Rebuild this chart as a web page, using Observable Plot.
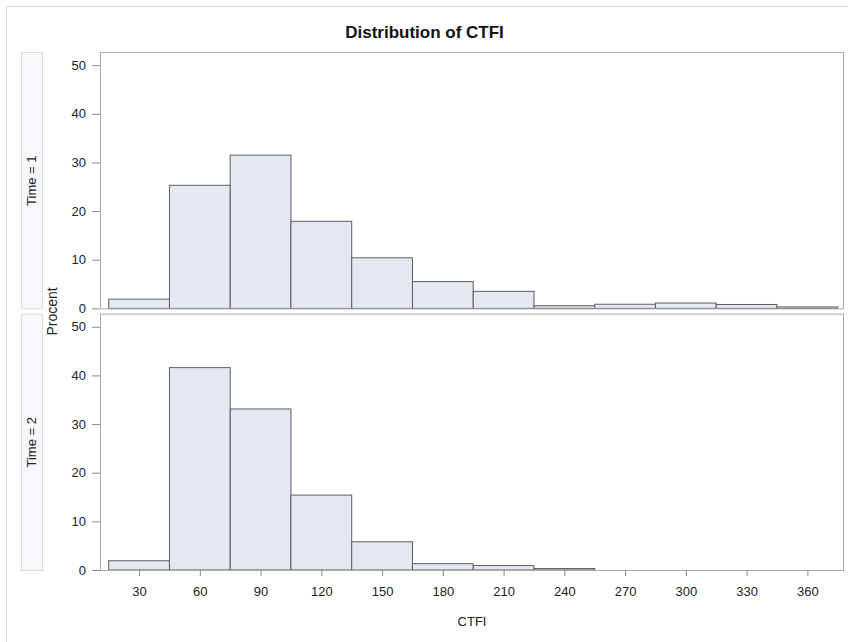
<!DOCTYPE html>
<html><head><meta charset="utf-8">
<script src="https://cdn.jsdelivr.net/npm/d3@7"></script>
<script src="https://cdn.jsdelivr.net/npm/@observablehq/plot@0.6"></script>
<style>
body{margin:0;background:#fff;font-family:"Liberation Sans",Arial,sans-serif;}
#wrap{position:relative;width:848px;height:642px;overflow:hidden;}
#chart{position:absolute;left:0;top:0;}
#outer{position:absolute;left:6px;top:6px;width:900px;height:700px;border:1px solid #d9d9d9;pointer-events:none;}
</style></head><body>
<div id="wrap"><div id="chart"></div><div id="outer"></div></div>
<script>
// bin midpoints (CTFI), bin width 30
const binMids = [30, 60, 90, 120, 150, 180, 210, 240, 270, 300, 330, 360];
const binWidth = 30;
// percent per bin
const time1 = [1.9, 25.3, 31.5, 17.9, 10.4, 5.5, 3.5, 0.55, 0.85, 1.1, 0.8, 0.3];
const time2 = [1.9, 41.6, 33.1, 15.4, 5.8, 1.3, 0.9, 0.3, 0, 0, 0, 0];
const timeLevels = [1, 2];
const xTicks = [30, 60, 90, 120, 150, 180, 210, 240, 270, 300, 330, 360];
const yTicks = [0, 10, 20, 30, 40, 50];
const titleText = "Distribution of CTFI";
const xLabel = "CTFI";
const yLabel = "Procent";

const series = [time1, time2];
const rows = [];
timeLevels.forEach((t, i) => binMids.forEach((m, j) => rows.push({time: t, mid: m, pct: series[i][j]})));

const textColor = "#222";
const font = "Liberation Sans, Arial, sans-serif";

const chart = Plot.plot({
  width: 848,
  height: 642,
  marginTop: 52,
  marginBottom: 72,
  marginLeft: 100,
  marginRight: 5,
  style: {fontFamily: font, fontSize: "13px", color: textColor, background: "transparent", overflow: "visible"},
  x: {domain: [10.7, 377.6]},
  y: {domain: [0, 52.7]},
  fy: {domain: timeLevels, paddingInner: 0.02, paddingOuter: 0, axis: null, round: false},
  marks: [
    // strip boxes
    Plot.frame({fill: "#f7f8fc", stroke: "#dcdcdc", insetLeft: -79, insetRight: 801}),
    Plot.text(timeLevels, {fy: d => d, text: d => `Time = ${d}`, frameAnchor: "left", dx: -68.5, rotate: -90, textAnchor: "middle", fontSize: 13, fill: textColor}),
    Plot.rectY(rows.filter(d => d.pct > 0), {
      fy: "time",
      x1: d => d.mid - binWidth / 2,
      x2: d => d.mid + binWidth / 2,
      y: "pct",
      fill: "#e4e8f1",
      stroke: "#5e5e5e",
      strokeWidth: 1
    }),
    Plot.frame({stroke: "#ababab"}),
    Plot.axisY(yTicks, {tickSize: 8, tickPadding: 6.5, label: null, stroke: "#8c8c8c", fill: textColor, fontSize: 13}),
    Plot.axisX(xTicks, {tickSize: 6, tickPadding: 10, label: null, stroke: "#8c8c8c", fill: textColor, fontSize: 13}),
    Plot.text([xLabel], {fy: () => 2, frameAnchor: "bottom", dy: 55, fontSize: 13, fill: textColor}),
    Plot.text([yLabel], {fy: () => 1, frameAnchor: "bottom-left", dx: -44, dy: 2.5, rotate: -90, textAnchor: "middle", fontSize: 14, fill: textColor}),
    Plot.text([titleText], {fy: () => 1, frameAnchor: "top", dx: -47.5, dy: -27, fontSize: 17, fontWeight: "bold", fill: "#111"})
  ]
});
document.getElementById("chart").appendChild(chart);
</script>
</body></html>
